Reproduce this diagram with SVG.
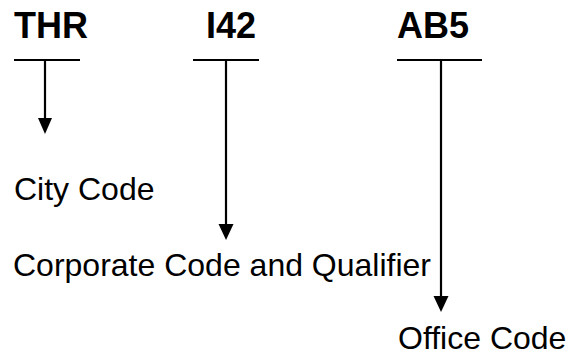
<svg xmlns="http://www.w3.org/2000/svg" width="570" height="356" viewBox="0 0 570 356">
<style>
.code{font-family:"Liberation Sans",Arial,sans-serif;font-weight:bold;font-size:36px;fill:#000}
.lbl{font-family:"Liberation Sans",Arial,sans-serif;font-size:32px;fill:#000}
.ln{stroke:#000;stroke-width:2.2;fill:none}
.hd{fill:#000}
</style>
<rect width="570" height="356" fill="#fff"/>
<g id="thr"><text class="code" x="14" y="38">THR</text><line class="ln" x1="14" y1="60" x2="80" y2="60"/></g>
<g id="i42"><text class="code" x="206" y="38">I42</text><line class="ln" x1="193" y1="60" x2="259" y2="60"/></g>
<g id="ab5"><text class="code" x="397" y="38">AB5</text><line class="ln" x1="397" y1="60" x2="482" y2="60"/></g>
<g id="city"><text class="lbl" x="14" y="200">City Code</text></g>
<g id="corp"><text class="lbl" x="13" y="276">Corporate Code and Qualifier</text></g>
<g id="office"><text class="lbl" x="398" y="349">Office Code</text></g>
<g id="connectors">
<line class="ln" x1="45" y1="60" x2="45" y2="120"/>
<path class="hd" d="M38,118 L52,118 L45,134 Z"/>
<line class="ln" x1="226" y1="60" x2="226" y2="226"/>
<path class="hd" d="M218.5,224 L233.5,224 L226,240 Z"/>
<line class="ln" x1="441" y1="60" x2="441" y2="298"/>
<path class="hd" d="M433.5,296 L448.5,296 L441,312 Z"/>
</g>
</svg>
